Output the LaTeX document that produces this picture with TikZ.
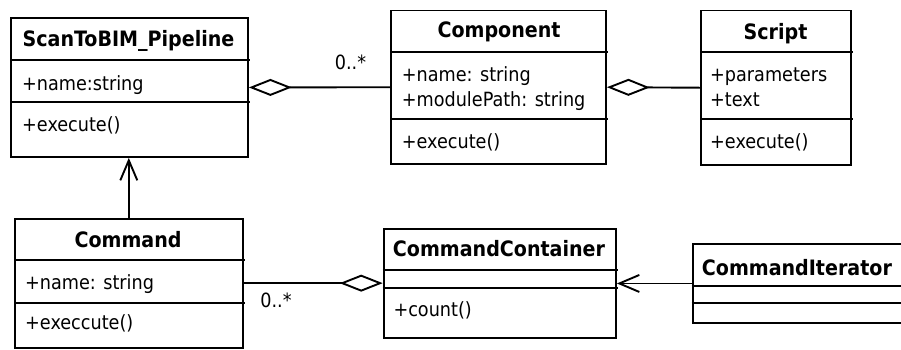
\documentclass[tikz,border=0pt]{standalone}
\usepackage{fontspec}
\setmainfont{DejaVu Sans Condensed}
\usetikzlibrary{arrows.meta}

\begin{document}
\begin{tikzpicture}[x=1pt, y=-1pt,
    classbox/.style={draw, line width=1.9pt, anchor=north west, inner sep=0pt},
    classname/.style={anchor=base, inner sep=0pt, font=\bfseries\fontsize{21.2}{25}\selectfont},
    member/.style={anchor=base west, inner sep=0pt, font=\fontsize{19.6}{23}\selectfont},
    mult/.style={anchor=base, inner sep=0pt, font=\fontsize{19.6}{23}\selectfont},
    divider/.style={line width=1.9pt},
    aggr/.style={line width=1.9pt, {Diamond[open, length=43pt, width=17pt]}-},
    assoc/.style={line width=1.9pt, -{Straight Barb[length=20pt, width=17pt]}}]

        \useasboundingbox (0,0) rectangle (901,349);

        % ScanToBIM_Pipeline
        \node[classbox, minimum width=237pt, minimum height=139pt] (pipe) at (10,17) {};
        \node[classname] (pipe-name) at (128.5,46.5) {ScanToBIM\_Pipeline};
        \foreach \y in {60, 102}{
            \draw[divider] (10,\y) -- ++(240,0);
        }
        \node[member] (pipe-a1) at (22,90) {+name:string};
        \node[member] (pipe-m1) at (22,131) {+execute()};

        % Component
        \node[classbox, minimum width=215pt, minimum height=153.5pt] (comp) at (390,9.5) {};
        \node[classname] (comp-name) at (499,37.5) {Component};
        \foreach \y in {51.7, 119}{
            \draw[divider] (390,\y) -- ++(218,0);
        }
        \node[member] (comp-a1) at (401.7,81.7) {+name: string};
        \node[member] (comp-a2) at (401.7,106) {+modulePath: string};
        \node[member] (comp-m1) at (401.7,148) {+execute()};

        % Script
        \node[classbox, minimum width=150pt, minimum height=154.5pt] (script) at (700,9.5) {};
        \node[classname] (script-name) at (775.5,39) {Script};
        \foreach \y in {51.7, 119}{
            \draw[divider] (700,\y) -- ++(153,0);
        }
        \node[member] (script-a1) at (710,81.7) {+parameters};
        \node[member] (script-a2) at (710,106) {+text};
        \node[member] (script-m1) at (710,148) {+execute()};

        % Command
        \node[classbox, minimum width=227.7pt, minimum height=129pt] (cmd) at (14,217.7) {};
        \node[classname] (cmd-name) at (128,247.3) {Command};
        \foreach \y in {260, 303.3}{
            \draw[divider] (14,\y) -- ++(231,0);
        }
        \node[member] (cmd-a1) at (25,289) {+name: string};
        \node[member] (cmd-m1) at (25,329) {+execcute()};

        % CommandContainer
        \node[classbox, minimum width=232.3pt, minimum height=109pt] (cont) at (382.7,227.7) {};
        \node[classname] (cont-name) at (499,256.7) {CommandContainer};
        \foreach \y in {270, 287.7}{
            \draw[divider] (382.7,\y) -- ++(235,0);
        }
        \node[member] (cont-m1) at (393.3,316) {+count()};

        % CommandIterator
        \node[classbox, minimum width=225pt, minimum height=78.4pt] (iter) at (691.7,243.3) {};
        \node[classname, anchor=base west] (iter-name) at (701.7,275) {CommandIterator};
        \foreach \y in {285.7, 303.3}{
            \draw[divider] (691.7,\y) -- ++(225,0);
        }

        % Relations
        \draw[aggr] (pipe.east) -- node[mult, pos=0.72, yshift=18pt] (mult-comp) {0..*} (comp.west);
        \draw[aggr] (comp.east) -- (script.west);
        \draw[assoc] (cmd.north) -- (cmd.north |- pipe.south);
        \draw[aggr] (cont.west) -- node[mult, pos=0.767, yshift=-24pt] (mult-cmd) {0..*} (cmd.east);
        \draw[assoc] (iter.west) -- (iter.west -| cont.east);

    \end{tikzpicture}
\end{document}
